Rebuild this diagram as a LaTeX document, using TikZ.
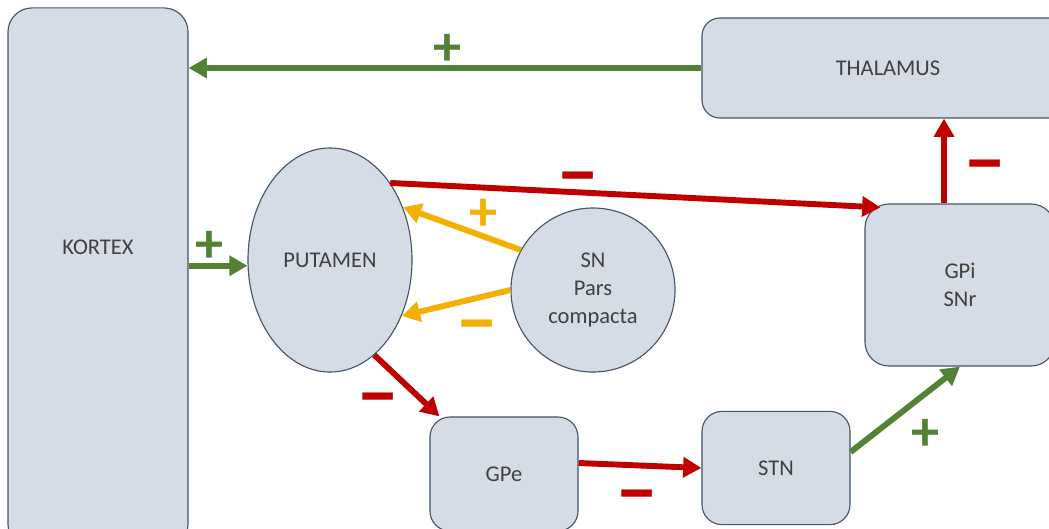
\documentclass[tikz,border=0pt]{standalone}
\usepackage{fontspec}
\setmainfont{Carlito}
\usetikzlibrary{arrows.meta, shapes.geometric, calc}
\definecolor{boxfill}{HTML}{D6DCE5}
\definecolor{boxline}{HTML}{44546A}
\definecolor{posgreen}{HTML}{548235}
\definecolor{negred}{HTML}{C00000}
\definecolor{dopayellow}{HTML}{F2B000}
\definecolor{textgray}{HTML}{404040}

\begin{document}
\begin{tikzpicture}[x=0.025cm, y=-0.025cm]
    \tikzstyle{nodebox}=[draw=boxline, fill=boxfill, rectangle, rounded corners=0.5cm, line width=0.8pt, text=textgray, font=\fontsize{16}{20}\selectfont, align=center]
    \tikzstyle{ovalbox}=[nodebox, ellipse, inner sep=0pt]
    \tikzstyle{signarrow}=[-{Triangle[length=13pt, width=14pt]}, line width=4.2pt]
    \tikzstyle{plustext}=[font=\fontsize{40}{40}\selectfont\bfseries]
    \tikzstyle{minustext}=[font=\fontsize{56}{56}\selectfont\bfseries]

    \useasboundingbox (0,0) rectangle (1049,528);

    \node[nodebox, minimum width=4.5cm, minimum height=13.5cm, rounded corners=0.6cm] (kortex) at (98, 278) {};
    \node[text=textgray, font=\fontsize{16}{20}\selectfont] at (98, 247) {KORTEX};
    \node[nodebox, minimum width=9.3cm, minimum height=2.5cm, rounded corners=0.45cm] (thalamus) at (888, 68) {THALAMUS};
    \node[ovalbox, minimum width=4.1cm, minimum height=5.6cm] (putamen) at (330, 260) {PUTAMEN};
    \node[ovalbox, circle, minimum size=4.1cm] (sn) at (593, 290) {SN\\Pars\\compacta};
    \node[nodebox, minimum width=4.75cm, minimum height=4.05cm, rounded corners=0.6cm] (gpi) at (960, 285) {GPi\\SNr};
    \node[nodebox, minimum width=3.7cm, minimum height=2.85cm] (gpe) at (504, 474) {GPe};
    \node[nodebox, minimum width=3.7cm, minimum height=2.83cm] (stn) at (776, 468) {STN};

    \draw[signarrow, posgreen] (thalamus.west) -- (kortex.east |- thalamus.west);
    \draw[signarrow, posgreen] (kortex.east |- putamen.184) -- (putamen.184);
    \draw[signarrow, negred] (putamen.52) -- ([xshift=0.4cm, yshift=-0.1cm]gpi.north west);
    \draw[signarrow, dopayellow] (sn.151) -- (putamen.36);
    \draw[signarrow, dopayellow] (sn.180) -- (putamen.322);
    \draw[signarrow, negred] (putamen.295) -- ([xshift=0.25cm]gpe.north west);
    \draw[signarrow, negred] ([yshift=0.275cm]gpe.east) -- (stn.west);
    \draw[signarrow, posgreen] ([yshift=0.4cm]stn.east) -- (gpi.south);
    \draw[signarrow, negred] ([xshift=-0.4cm]gpi.north) -- ([xshift=-0.4cm]gpi.north |- thalamus.south);

    \node[plustext, posgreen] (plusA) at (447, 50) {+};
    \node[plustext, posgreen] (plusB) at (210, 247) {+};
    \node[minustext, negred] (minusA) at (578, 186) {−};
    \node[plustext, dopayellow] (plusC) at (483, 215) {+};
    \node[minustext, dopayellow] (minusB) at (477, 334) {−};
    \node[minustext, negred] (minusC) at (378, 407) {−};
    \node[minustext, negred] (minusD) at (637, 504) {−};
    \node[plustext, posgreen] (plusD) at (925, 435) {+};
    \node[minustext, negred] (minusE) at (985, 174) {−};
\end{tikzpicture}
\end{document}
